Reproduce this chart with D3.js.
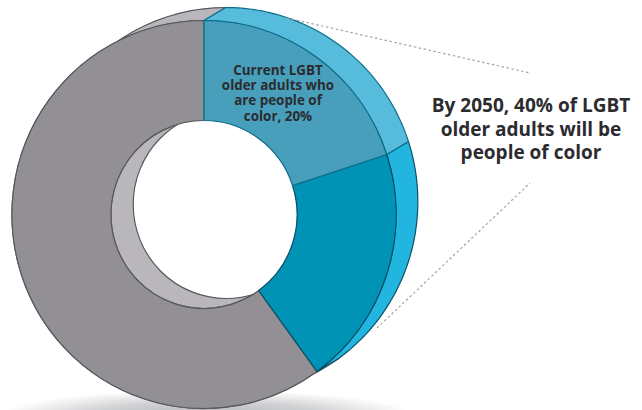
<!DOCTYPE html>
<html>
<head>
<meta charset="utf-8">
<script src="https://cdn.jsdelivr.net/npm/d3@7"></script>
<style>
  html, body { margin: 0; padding: 0; background: #fff; }
  svg { display: block; }
  text { font-family: "Open Sans", sans-serif; font-weight: 700; fill: #2b2b30; text-anchor: middle; }
</style>
</head>
<body>
<div id="chart"></div>
<script>
// data
const categories = ["Current people of color", "Future people of color", "Other LGBT older adults"];
const shares = [20, 20, 60];
const sliceLabel = ["Current LGBT", "older adults who", "are people of", "color, 20%"];
const calloutLabel = ["By 2050, 40% of LGBT", "older adults will be", "people of color"];

// colours for each slice
const faceColors = ["#479fbb", "#0093b6", "#929095"];
const wallColors = ["#57bcdc", "#22b5e0", "#b9b7bc"];
const edgeColors = ["#0b6f8c", "#0a4f66", "#59575b"];

const width = 642, height = 410;
const cx = 204, cy = 214.5;
const outerR = 194, innerR = 94;
const squeeze = 0.99;              // ring is a little narrower than it is tall
const depthX = 22, depthY = -13;   // how far the back of the ring sits from the front
const holeX = 22.5, holeY = -10;

const svg = d3.select("#chart").append("svg")
  .attr("width", width)
  .attr("height", height);

const defs = svg.append("defs");

const shadow = defs.append("radialGradient").attr("id", "shadow");
shadow.append("stop").attr("offset", "0%").attr("stop-color", "#b4b6b9");
shadow.append("stop").attr("offset", "55%").attr("stop-color", "#d0d1d3");
shadow.append("stop").attr("offset", "100%").attr("stop-color", "#fff");

defs.append("clipPath").attr("id", "front-hole")
  .append("circle")
  .attr("r", innerR);

// shadow under the ring
svg.append("ellipse")
  .attr("cx", cx + 3).attr("cy", height + 6)
  .attr("rx", 208).attr("ry", 26)
  .attr("fill", "url(#shadow)");

const pie = d3.pie().sort(null).value(d => d);
const slices = pie(shares);
const arc = d3.arc().innerRadius(innerR).outerRadius(outerR);

// outer side of the ring, swept from front edge to back edge
function wallPath(d) {
  const angle = d3.scaleLinear().domain([0, 60]).range([d.startAngle, d.endAngle]);
  const front = d3.range(61).map(i => d3.pointRadial(angle(i), outerR));
  const back = front.map(p => [p[0] + depthX, p[1] + depthY]).reverse();
  return d3.line()(front.concat(back)) + "Z";
}

const ring = svg.append("g")
  .attr("transform", `translate(${cx},${cy}) scale(${squeeze},1)`);

// gray first so the blue walls end up on top of it
ring.selectAll(".wall")
  .data(slices.slice().reverse())
  .join("path")
  .attr("class", "wall")
  .attr("d", wallPath)
  .attr("fill", d => wallColors[d.index])
  .attr("stroke", d => edgeColors[d.index])
  .attr("stroke-width", 1.2)
  .attr("stroke-linejoin", "round");

// inside of the hole
ring.append("circle")
  .attr("r", innerR)
  .attr("fill", wallColors[2])
  .attr("stroke", edgeColors[2])
  .attr("stroke-width", 1.2);

ring.append("g")
  .attr("clip-path", "url(#front-hole)")
  .append("circle")
  .attr("cx", holeX).attr("cy", holeY).attr("r", innerR)
  .attr("fill", "#fff")
  .attr("stroke", edgeColors[2])
  .attr("stroke-width", 1.2);

// front face, gray first
ring.selectAll(".face")
  .data(slices.slice().reverse())
  .join("path")
  .attr("class", "face")
  .attr("d", arc)
  .attr("fill", d => faceColors[d.index])
  .attr("stroke", d => edgeColors[d.index])
  .attr("stroke-width", 1.2)
  .attr("stroke-linejoin", "round");

// dotted leaders to the callout
svg.selectAll(".leader")
  .data([[[287, 18], [530, 73]], [[377, 328], [530, 183]]])
  .join("path")
  .attr("class", "leader")
  .attr("d", d3.line())
  .attr("fill", "none")
  .attr("stroke", "#a3a3a7")
  .attr("stroke-width", 1.2)
  .attr("stroke-dasharray", "2.5 2.5");

svg.append("text")
  .attr("font-size", 13.4)
  .selectAll("tspan")
  .data(sliceLabel)
  .join("tspan")
  .attr("x", 278)
  .attr("y", (d, i) => 75 + i * 15.2)
  .text(d => d);

svg.append("text")
  .attr("font-size", 19)
  .selectAll("tspan")
  .data(calloutLabel)
  .join("tspan")
  .attr("x", 531)
  .attr("y", (d, i) => 112 + i * 23.7)
  .text(d => d);
</script>
</body>
</html>
